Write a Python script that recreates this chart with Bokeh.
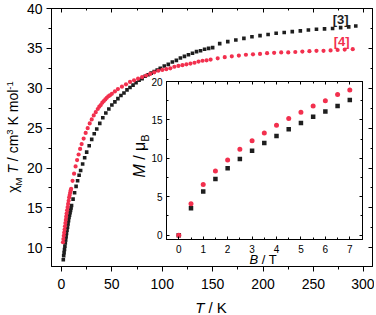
from bokeh.plotting import figure
from bokeh.models import LinearAxis, SingleIntervalTicker, Label, Column, CustomJSTickFormatter, Div
from bokeh.embed import file_html
from bokeh.resources import INLINE

# ---------------- data ----------------
T3 = [1.8, 2.2, 2.6, 3.0, 3.4, 3.8, 4.2, 4.6, 5.0, 5.5, 6.0, 6.5, 7.0, 7.5, 8.0, 8.5, 9.0, 9.5, 10.0,
      11.5, 13.0, 14.5, 16.0, 17.5, 19.0, 21.0, 23.0, 25.0, 27.5, 30.0, 32.5, 35.0, 38.0, 41.0, 44.0,
      47.0, 50.0, 53.0, 56.0, 59.0, 62.0, 65.0, 68.0, 71.0, 74.0, 77.0, 80.0, 83.0, 86.0, 89.0, 92.0,
      95.0, 98.0, 102, 106, 110, 114, 118, 122, 126, 130, 134, 138, 142, 146, 150, 157, 165, 173, 181,
      189, 197, 205, 213, 221, 229, 237, 245, 253, 261, 269, 277, 285, 292]
chi3 = [8.5, 9.0, 9.4, 9.8, 10.2, 10.6, 11.0, 11.4, 11.8, 12.2, 12.6, 13.0, 13.4, 13.8, 14.1, 14.4, 14.7, 15.0, 15.3,
        16.1, 16.9, 17.7, 18.4, 19.1, 19.7, 20.5, 21.3, 22.0, 22.8, 23.6, 24.3, 24.9, 25.6, 26.3, 26.9,
        27.4, 27.9, 28.3, 28.7, 29.1, 29.4, 29.8, 30.1, 30.4, 30.7, 31.0, 31.2, 31.5, 31.7, 31.9, 32.1,
        32.3, 32.5, 32.8, 33.0, 33.3, 33.5, 33.8, 34.0, 34.2, 34.4, 34.6, 34.7, 34.9, 35.0, 35.1, 35.6, 35.85, 36.05, 36.25,
        36.45, 36.6, 36.75, 36.9, 37.0, 37.1, 37.2, 37.3, 37.4, 37.45, 37.5, 37.6, 37.7, 37.8]

T4 = [1.5, 1.9, 2.3, 2.7, 3.1, 3.5, 3.9, 4.3, 4.7, 5.1, 5.6, 6.1, 6.6, 7.1, 7.6, 8.1, 8.6, 9.1, 9.6,
      11.0, 12.5, 14.0, 15.5, 17.0, 18.5, 20.0, 22.0, 24.0, 26.0, 28.0, 30.0, 32.0, 34.0, 36.0, 37.5,
      39.0, 40.5, 42.0, 43.5, 45.0, 46.5, 48.0, 50.0, 53.0, 56.0, 60.0, 64.0, 68.0, 72.0, 76.0, 80.0,
      84.0, 88.0, 92.0, 96.0, 100, 104, 108, 112, 116, 120, 124, 128, 132, 136, 140, 144, 148, 155,
      162, 169, 176, 183, 190, 197, 204, 211, 218, 225, 232, 239, 246, 253, 260, 267, 274, 281, 289]
chi4 = [10.7, 11.1, 11.5, 11.9, 12.3, 12.7, 13.1, 13.5, 13.9, 14.3, 14.7, 15.1, 15.5, 15.9, 16.3, 16.6, 16.9, 17.2, 17.4,
        18.4, 19.3, 20.2, 21.0, 21.7, 22.4, 23.0, 23.7, 24.4, 25.0, 25.6, 26.1, 26.6, 27.0, 27.4, 27.7,
        27.9, 28.2, 28.4, 28.6, 28.8, 29.0, 29.1, 29.3, 29.6, 29.9, 30.2, 30.5, 30.8, 31.0, 31.2, 31.4,
        31.6, 31.8, 32.0, 32.2, 32.3, 32.4, 32.5, 32.7, 32.8, 32.9, 33.0, 33.1, 33.2, 33.35, 33.45, 33.5, 33.6, 33.75,
        33.9, 34.0, 34.1, 34.2, 34.25, 34.3, 34.4, 34.45, 34.5, 34.5, 34.55, 34.6, 34.65, 34.7, 34.7, 34.75, 34.8, 34.85, 34.9]

B_field = [0, 0.5, 1.0, 1.5, 2.0, 2.5, 3.0, 3.5, 4.0, 4.5, 5.0, 5.5, 6.0, 6.5, 7.0]
M3 = [0, 3.5, 5.7, 7.3, 8.7, 9.9, 11.0, 12.0, 12.9, 13.8, 14.6, 15.4, 16.1, 16.8, 17.6]
M4 = [0, 4.1, 6.6, 8.35, 9.8, 11.2, 12.3, 13.3, 14.3, 15.2, 16.0, 16.8, 17.5, 18.3, 18.9]

main_x_ticks = 50
main_y_ticks = 5
inset_x_ticks = 1
inset_y_ticks = 5

BLACK = "#1e1e1e"
RED = "#f2304e"
FONT = "Liberation Sans"


def style_axis(ax, tin, tout, min_in, min_out, labels, size, standoff):
    ax.axis_line_color = "black"
    ax.axis_line_width = 1
    ax.major_tick_line_color = "black"
    ax.minor_tick_line_color = "black"
    ax.major_tick_in = tin
    ax.major_tick_out = tout
    ax.minor_tick_in = min_in
    ax.minor_tick_out = min_out
    ax.major_label_text_font = FONT
    ax.major_label_text_color = "black"
    if labels:
        ax.major_label_text_font_size = f"{size}px"
        ax.major_label_standoff = standoff
    else:
        ax.formatter = CustomJSTickFormatter(code="return ''")
        ax.major_label_standoff = 0


# ---------------- main figure ----------------
p = figure(width=374, height=315, x_range=(-9.9, 308.6), y_range=(7.66, 40),
           output_backend="svg", toolbar_location=None,
           min_border_left=51, min_border_right=2, min_border_top=8, min_border_bottom=49)
p.xgrid.visible = False
p.ygrid.visible = False
p.outline_line_color = "black"
p.background_fill_color = "white"
p.border_fill_color = "white"

p.xaxis.ticker = SingleIntervalTicker(interval=main_x_ticks, num_minor_ticks=2)
p.yaxis.ticker = SingleIntervalTicker(interval=main_y_ticks, num_minor_ticks=2)
style_axis(p.xaxis[0], 0, 5, 0, 3, True, 14, 7)
style_axis(p.yaxis[0], 0, 5, 0, 3, True, 14, 4)

top_ax = LinearAxis(ticker=SingleIntervalTicker(interval=main_x_ticks, num_minor_ticks=2))
style_axis(top_ax, 4, 0, 2, 0, False, 0, 0)
p.add_layout(top_ax, "above")
right_ax = LinearAxis(ticker=SingleIntervalTicker(interval=main_y_ticks, num_minor_ticks=2))
style_axis(right_ax, 4, 0, 2, 0, False, 0, 0)
p.add_layout(right_ax, "right")

p.scatter(T3, chi3, marker="square", size=3.6, color=BLACK, line_width=0)
p.scatter(T4, chi4, marker="circle", size=4.2, color=RED, line_width=0)

p.add_layout(Label(x=277, y=38.6, text="[3]", text_font=FONT, text_font_size="13px",
                   text_font_style="bold", text_color=BLACK, text_align="center",
                   text_baseline="middle"))
p.add_layout(Label(x=278, y=35.85, text="[4]", text_font=FONT, text_font_size="13px",
                   text_font_style="bold", text_color=RED, text_align="center",
                   text_baseline="middle"))

# ---------------- inset ----------------
# left border matches the main plot's (a column aligns the plots' borders)
inset = figure(width=249, height=192, x_range=(-0.503, 7.52), y_range=(-0.56, 20),
               output_backend="svg", toolbar_location=None,
               min_border_left=51, min_border_right=2, min_border_top=5, min_border_bottom=29)
inset.xgrid.visible = False
inset.ygrid.visible = False
inset.outline_line_color = "black"
inset.background_fill_color = "white"
inset.border_fill_color = None
inset.border_fill_alpha = 0

inset.xaxis.ticker = SingleIntervalTicker(interval=inset_x_ticks, num_minor_ticks=2)
inset.yaxis.ticker = SingleIntervalTicker(interval=inset_y_ticks, num_minor_ticks=2)
style_axis(inset.xaxis[0], 3, 0, 2, 0, True, 10, 5)
style_axis(inset.yaxis[0], 3, 0, 2, 0, True, 10, 4)
itop = LinearAxis(ticker=SingleIntervalTicker(interval=inset_x_ticks, num_minor_ticks=2))
style_axis(itop, 3, 0, 2, 0, False, 0, 0)
inset.add_layout(itop, "above")
iright = LinearAxis(ticker=SingleIntervalTicker(interval=inset_y_ticks, num_minor_ticks=2))
style_axis(iright, 3, 0, 2, 0, False, 0, 0)
inset.add_layout(iright, "right")

inset.scatter(B_field, M3, marker="square", size=4.5, color=BLACK, line_width=0)
inset.scatter(B_field, M4, marker="circle", size=5, color=RED, line_width=0)

inset.margin = (76 - 315, 0, 0, 115)

# ---------------- axis titles (rich text) ----------------
SPAN = "position:absolute;white-space:nowrap;line-height:1.15;transform:translate(-50%,-50%)"
html = (
    f'<div style="position:relative;width:374px;height:315px;font-family:\'{FONT}\';color:#000;">'
    f'<span style="{SPAN} rotate(-90deg);left:15px;top:137px;font-size:14px;">'
    'χ<sub style="font-size:9.5px">M</sub> <i>T</i> / cm<sup style="font-size:9.5px">3</sup>'
    ' K mol<sup style="font-size:9.5px">-1</sup></span>'
    f'<span style="{SPAN};left:211px;top:308px;font-size:15px;"><i>T</i> / K</span>'
    f'<span style="{SPAN};left:263px;top:260px;font-size:13px;"><i>B</i> / T</span>'
    f'<span style="{SPAN} rotate(-90deg);left:141px;top:156px;font-size:16px;">'
    '<i>M</i> / μ<sub style="font-size:11px">B</sub></span>'
    '</div>'
)
titles = Div(text=html, width=374, height=315, margin=(-268, 0, 0, 0))

layout = Column(children=[p, inset, titles])
open("out.html", "w").write(file_html(layout, INLINE))
